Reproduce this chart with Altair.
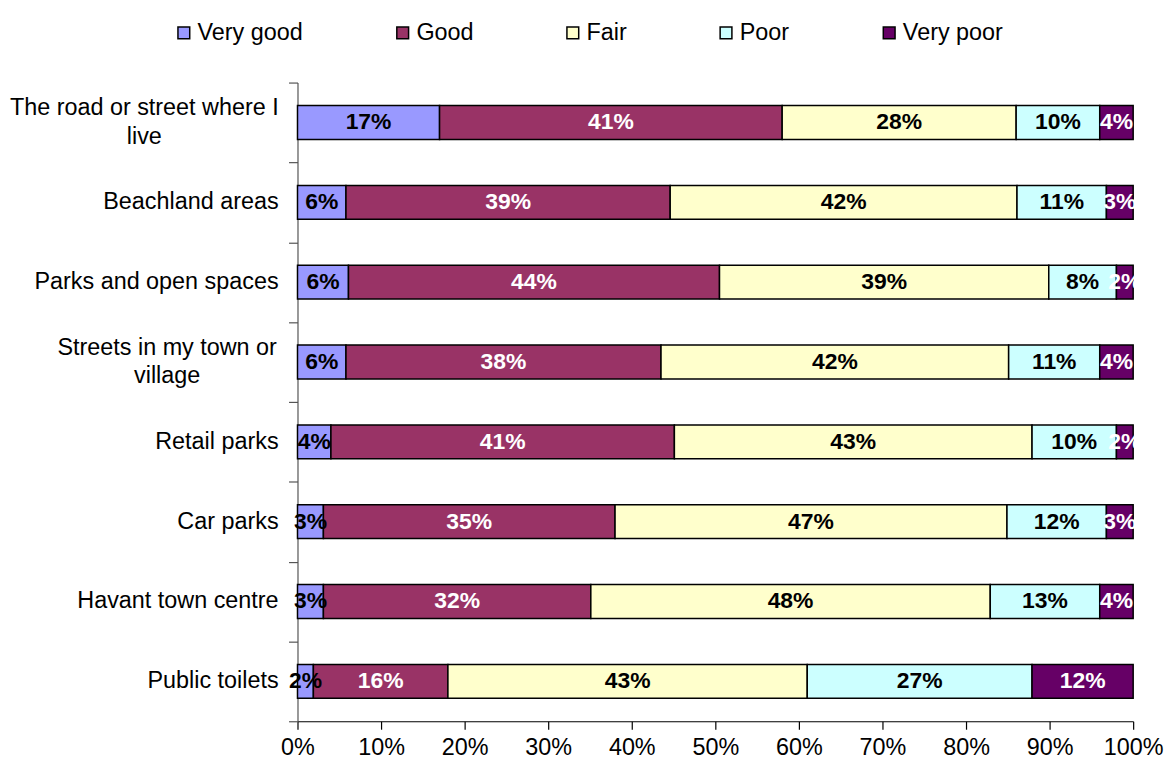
import altair as alt
import pandas as pd

categories = [
    "The road or street where I|live",
    "Beachland areas",
    "Parks and open spaces",
    "Streets in my town or|village",
    "Retail parks",
    "Car parks",
    "Havant town centre",
    "Public toilets",
]
ratings = ["Very good", "Good", "Fair", "Poor", "Very poor"]
very_good = [17.0, 5.8, 6.1, 5.8, 4.0, 3.1, 3.1, 1.9]
good = [41.0, 38.8, 44.4, 37.7, 41.1, 34.9, 32.0, 16.1]
fair = [28.0, 41.5, 39.4, 41.6, 42.8, 46.9, 47.8, 43.0]
poor = [10.0, 10.7, 8.1, 10.9, 10.1, 11.9, 13.1, 26.9]
very_poor = [4.0, 3.2, 2.0, 4.0, 2.0, 3.2, 4.0, 12.1]
colors = ["#9999FF", "#993366", "#FFFFCC", "#CCFFFF", "#660066"]

series = [very_good, good, fair, poor, very_poor]
rows = []
for ri, (rating, vals) in enumerate(zip(ratings, series)):
    for cat, v in zip(categories, vals):
        rows.append({"category": cat, "rating": rating, "value": v,
                     "order": ri, "label": f"{round(v)}%"})
df = pd.DataFrame(rows)
cat_df = pd.DataFrame({"category": categories})

FONT = "Liberation Sans"
FS = 23.5

y_scale = alt.Scale(paddingInner=0, paddingOuter=0)

y_enc = alt.Y(
    "category:N", sort=categories, scale=y_scale,
    axis=alt.Axis(title=None, labels=False, tickBand="extent", tickSize=9,
                  domainColor="#555", tickColor="#555",
                  domainWidth=1.2, tickWidth=1.2),
)

base = alt.Chart(df)

bars = base.mark_bar(stroke="black", strokeWidth=1.5, size=34).encode(
    y=y_enc,
    x=alt.X("value:Q", stack="zero",
            scale=alt.Scale(domain=[0, 100], nice=False),
            axis=alt.Axis(title=None, values=list(range(0, 101, 10)),
                          labelExpr="datum.value + '%'", grid=False,
                          labelFlush=False,
                          labelFontSize=FS, labelFont=FONT, labelColor="black",
                          tickSize=8, labelPadding=6, domainColor="#000",
                          tickColor="#000", domainWidth=1.2, tickWidth=1.2)),
    color=alt.Color("rating:N", sort=ratings,
                    scale=alt.Scale(domain=ratings, range=colors),
                    legend=alt.Legend(title=None, orient="none", direction="horizontal",
                                      legendX=-126, legendY=-62,
                                      labelFontSize=FS, labelFont=FONT, labelColor="black",
                                      symbolType="square", symbolSize=140,
                                      symbolStrokeColor="black", symbolStrokeWidth=1.5,
                                      symbolOpacity=1, columnPadding=88, labelOffset=2)),
    order=alt.Order("order:Q"),
)

text = base.transform_stack(
    stack="value", groupby=["category"], as_=["x0", "x1"],
    sort=[alt.SortField("order")],
).transform_calculate(
    mid="(datum.x0 + datum.x1) / 2"
).mark_text(fontWeight="bold", fontSize=23, font=FONT, baseline="middle").encode(
    y=alt.Y("category:N", sort=categories, scale=y_scale),
    x=alt.X("mid:Q"),
    text="label:N",
    color=alt.condition("datum.rating == 'Good' || datum.rating == 'Very poor'",
                        alt.value("white"), alt.value("black")),
)

cat_base = alt.Chart(cat_df)
single_labels = cat_base.transform_filter("indexof(datum.category, '|') < 0").mark_text(
    align="right", baseline="middle", fontSize=FS, font=FONT, color="black"
).encode(
    y=alt.Y("category:N", sort=categories, scale=y_scale),
    x=alt.value(-19),
    text="category:N",
)


def multi_label(cat, center_x):
    return cat_base.transform_filter(alt.datum.category == cat).mark_text(
        align="center", baseline="middle", fontSize=FS, font=FONT, color="black",
        lineBreak="|", lineHeight=29, dy=-14.5
    ).encode(
        y=alt.Y("category:N", sort=categories, scale=y_scale),
        x=alt.value(center_x),
        text="category:N",
    )


road_label = multi_label(categories[0], -154)
streets_label = multi_label(categories[3], -131)

chart = alt.layer(bars, text, single_labels, road_label, streets_label).properties(
    width=1162, height=753,
    autosize=alt.AutoSizeParams(type="fit", contains="padding"),
    padding={"top": 72, "left": 1, "right": 0, "bottom": 0},
).configure_view(stroke=None)

chart.save("out.html", embed_options={"renderer": "svg", "actions": False})
